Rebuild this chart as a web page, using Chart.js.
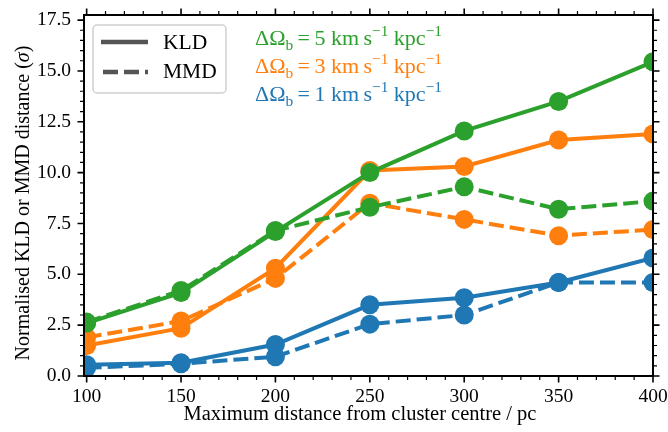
<!DOCTYPE html>
<html>
<head>
<meta charset="utf-8">
<script src="https://cdn.jsdelivr.net/npm/chart.js@4"></script>
<style>
  html, body { margin: 0; padding: 0; background: #fff; }
</style>
</head>
<body>
<canvas id="myChart" width="668" height="432"></canvas>
<script>
// data
var distances = [100, 150, 200, 250, 300, 350, 400];
var xTickValues = [100, 150, 200, 250, 300, 350, 400];
var yTickValues = [0, 2.5, 5, 7.5, 10, 12.5, 15, 17.5];

var kld5 = [2.6, 4.1, 7.1, 10.0, 12.05, 13.5, 15.45];
var mmd5 = [2.65, 4.2, 7.15, 8.3, 9.3, 8.2, 8.6];
var kld3 = [1.5, 2.35, 5.3, 10.1, 10.3, 11.6, 11.9];
var mmd3 = [1.9, 2.7, 4.8, 8.5, 7.7, 6.9, 7.2];
var kld1 = [0.55, 0.65, 1.55, 3.5, 3.85, 4.6, 5.8];
var mmd1 = [0.4, 0.6, 0.95, 2.55, 3.0, 4.6, 4.6];

var green = '#2ca02c', orange = '#ff7f0e', blue = '#1f77b4';
var serif = "'Liberation Serif', 'DejaVu Serif', serif";

function series(vals, colour, dashed) {
  return {
    data: distances.map((d, i) => ({ x: d, y: vals[i] })),
    borderColor: colour,
    backgroundColor: colour,
    pointBackgroundColor: colour,
    pointBorderWidth: 0,
    pointRadius: 9.5,
    pointHoverRadius: 9.5,
    borderWidth: 4,
    borderDash: dashed ? [15, 6] : [],
    clip: 0,
    tension: 0
  };
}

// rich text: pieces of [text, mode] with mode '', 'sub', 'sup', 'it'
function drawRich(ctx, x, y, pieces, size, colour) {
  ctx.fillStyle = colour;
  ctx.textBaseline = 'alphabetic';
  ctx.textAlign = 'left';
  pieces.forEach(function (p) {
    var small = (p[1] == 'sub' || p[1] == 'sup');
    var s = small ? size * 0.7 : size;
    var dy = p[1] == 'sub' ? size * 0.22 : (p[1] == 'sup' ? -size * 0.4 : 0);
    ctx.font = (p[1] == 'it' ? 'italic ' : '') + s + 'px ' + serif;
    ctx.fillText(p[0], x, y + dy);
    x += ctx.measureText(p[0]).width;
  });
  return x;
}
function richWidth(ctx, pieces, size) {
  var w = 0;
  pieces.forEach(function (p) {
    var small = (p[1] == 'sub' || p[1] == 'sup');
    ctx.font = (p[1] == 'it' ? 'italic ' : '') + (small ? size * 0.7 : size) + 'px ' + serif;
    w += ctx.measureText(p[0]).width;
  });
  return w;
}

var decor = {
  id: 'decor',
  afterDraw: function (chart) {
    var ctx = chart.ctx, a = chart.chartArea;
    var xs = chart.scales.x, ys = chart.scales.y;
    ctx.save();
    ctx.strokeStyle = '#000';
    // outward ticks, all four sides
    for (var v = 100; v <= 400; v += 10) {
      var px = xs.getPixelForValue(v);
      var len = (v % 50 == 0) ? 6.5 : 4;
      ctx.lineWidth = (v % 50 == 0) ? 1.6 : 1.2;
      ctx.beginPath();
      ctx.moveTo(px, a.bottom); ctx.lineTo(px, a.bottom + len);
      ctx.moveTo(px, a.top); ctx.lineTo(px, a.top - len);
      ctx.stroke();
    }
    for (var k = 0; k <= 35; k++) {
      var py = ys.getPixelForValue(k * 0.5);
      var major = (k % 5 == 0);
      var l2 = major ? 6.5 : 4;
      ctx.lineWidth = major ? 1.6 : 1.2;
      ctx.beginPath();
      ctx.moveTo(a.left, py); ctx.lineTo(a.left - l2, py);
      ctx.moveTo(a.right, py); ctx.lineTo(a.right + l2, py);
      ctx.stroke();
    }
    // frame
    ctx.lineWidth = 2;
    ctx.strokeRect(a.left, a.top, a.right - a.left, a.bottom - a.top);

    // axis titles
    ctx.fillStyle = '#000';
    ctx.font = '20.5px ' + serif;
    ctx.textAlign = 'center';
    ctx.textBaseline = 'middle';
    ctx.fillText('Maximum distance from cluster centre / pc', 360, 415);
    var yt = [['Normalised KLD or MMD distance (', ''], ['σ', 'it'], [')', '']];
    ctx.save();
    ctx.translate(29, 203);
    ctx.rotate(-Math.PI / 2);
    var w = richWidth(ctx, yt, 20);
    drawRich(ctx, -w / 2, 0, yt, 20, '#000');
    ctx.restore();

    // legend box
    ctx.lineWidth = 1.5;
    ctx.strokeStyle = '#d0d0d0';
    ctx.fillStyle = 'rgba(255,255,255,0.8)';
    ctx.beginPath();
    ctx.roundRect(93, 25, 133, 68, 4);
    ctx.fill();
    ctx.stroke();
    ctx.strokeStyle = '#555';
    ctx.lineWidth = 4.5;
    ctx.beginPath();
    ctx.moveTo(101, 42); ctx.lineTo(148, 42);
    ctx.stroke();
    ctx.setLineDash([15, 6]);
    ctx.beginPath();
    ctx.moveTo(103, 72); ctx.lineTo(148, 72);
    ctx.stroke();
    ctx.setLineDash([]);
    ctx.fillStyle = '#000';
    ctx.font = '21.5px ' + serif;
    ctx.textAlign = 'left';
    ctx.textBaseline = 'middle';
    ctx.fillText('KLD', 163, 43);
    ctx.fillText('MMD', 163, 72);

    // colour annotations
    var notes = [['5', green, 45], ['3', orange, 73], ['1', blue, 101]];
    notes.forEach(function (n) {
      drawRich(ctx, 255, n[2], [
        ['ΔΩ', ''], ['b', 'sub'], ['\u2009=\u2009' + n[0] + ' km\u2009s', ''], ['−1', 'sup'],
        [' kpc', ''], ['−1', 'sup']
      ], 22, n[1]);
    });
    ctx.restore();
  }
};

const config = {
  type: 'line',
  data: {
    datasets: [
      series(kld5, green, false),
      series(mmd5, green, true),
      series(kld3, orange, false),
      series(mmd3, orange, true),
      series(kld1, blue, false),
      series(mmd1, blue, true)
    ]
  },
  options: {
    responsive: false,
    animation: false,
    layout: { padding: { top: 15, right: 15, left: 0, bottom: 0 } },
    plugins: { legend: { display: false }, tooltip: { enabled: false } },
    scales: {
      x: {
        type: 'linear',
        min: 98.6,
        max: 400,
        grid: { display: false, drawTicks: false },
        border: { display: false },
        afterBuildTicks: function (s) { s.ticks = xTickValues.map(v => ({ value: v })); },
        afterFit: function (s) { s.height = 56; s.paddingLeft = 0; s.paddingRight = 0; },
        ticks: {
          padding: 9,
          color: '#000',
          maxRotation: 0,
          font: { family: serif, size: 19.5 },
          callback: v => String(v)
        },
        title: { display: false }
      },
      y: {
        min: 0,
        max: 17.75,
        grid: { display: false, drawTicks: false },
        border: { display: false },
        afterBuildTicks: function (s) { s.ticks = yTickValues.map(v => ({ value: v })); },
        afterFit: function (s) { s.width = 84; s.paddingTop = 0; s.paddingBottom = 0; },
        ticks: {
          padding: 13,
          color: '#000',
          font: { family: serif, size: 19.5 },
          callback: v => Number(v).toFixed(1)
        },
        title: { display: false }
      }
    }
  },
  plugins: [decor]
};

var chartInstance = new Chart(document.getElementById('myChart'), config);
</script>
</body>
</html>
